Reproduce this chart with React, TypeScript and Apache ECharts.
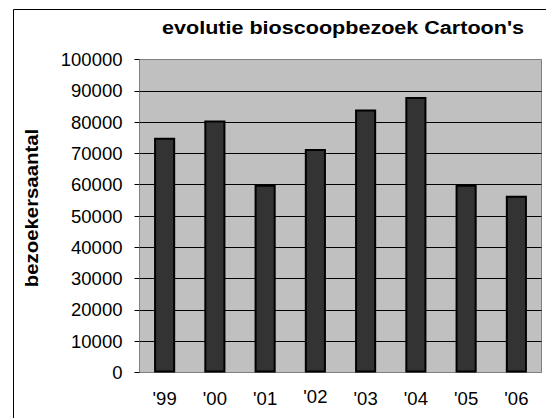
import React, { useEffect, useRef } from "react";
import * as echarts from "echarts";

const categories = ["'99", "'00", "'01", "'02", "'03", "'04", "'05", "'06"];
const visitors = [75000, 80500, 60000, 71400, 84000, 88000, 60000, 56500];
const titleText = "evolutie bioscoopbezoek Cartoon's";
const yAxisName = "bezoekersaantal";

export default function App() {
  const ref = useRef<HTMLDivElement>(null);
  useEffect(() => {
    if (!ref.current) return;
    const chart = echarts.init(ref.current, undefined, { renderer: "svg" });
    chart.setOption({
      animation: false,
      backgroundColor: "#ffffff",
      textStyle: { fontFamily: "Liberation Sans, Arial, sans-serif" },
      graphic: [
        {
          type: "rect",
          shape: { x: 13.5, y: 9.5, width: 600, height: 500 },
          style: { fill: "none", stroke: "#000", lineWidth: 1 },
          z: -1,
        },
        {
          type: "text",
          x: 162,
          y: 18,
          scaleX: 1.135,
          style: {
            text: titleText,
            font: "bold 19px 'Liberation Sans', Arial, sans-serif",
            fill: "#000",
            textVerticalAlign: "top",
          },
        },
        {
          type: "text",
          x: 31,
          y: 208,
          rotation: Math.PI / 2,
          scaleX: 1.1,
          style: {
            text: yAxisName,
            font: "bold 18.5px 'Liberation Sans', Arial, sans-serif",
            fill: "#000",
            textAlign: "center",
            textVerticalAlign: "middle",
          },
        },
      ],
      grid: {
        left: 139.5,
        top: 59.5,
        right: 4.5,
        bottom: 45.5,
        show: true,
        backgroundColor: "#C0C0C0",
        borderColor: "#808080",
        borderWidth: 1,
      },
      xAxis: {
        type: "category",
        data: categories,
        axisLine: { lineStyle: { color: "#808080", width: 1 } },
        axisTick: { show: false },
        axisLabel: {
          interval: 0,
          color: "#000",
          fontSize: 18.5,
          margin: 14,
          formatter: (v: string) => (v === "'02" ? "{up|" + v + "}" : "{n|" + v + "}"),
          rich: {
            n: { fontSize: 18.5, color: "#000", lineHeight: 24 },
            up: { fontSize: 18.5, color: "#000", lineHeight: 19 },
          },
        },
      },
      yAxis: {
        type: "value",
        min: 0,
        max: 100000,
        interval: 10000,
        axisLine: { show: true, lineStyle: { color: "#808080", width: 1 } },
        axisTick: { show: true, inside: false, length: 5, lineStyle: { color: "#000" } },
        axisLabel: { color: "#000", fontSize: 18.5, margin: 17, formatter: (v: number) => String(v) },
        splitLine: { show: true, showMaxLine: false, showMinLine: false, lineStyle: { color: "#000", width: 1 } },
      },
      series: [
        {
          type: "bar",
          data: visitors,
          barWidth: "42%",
          itemStyle: { color: "#333333", borderColor: "#000", borderWidth: 2 },
        },
      ],
    });
    return () => chart.dispose();
  }, []);
  return (
    <div
      ref={ref}
      style={{ position: "fixed", left: 0, top: 0, width: 546, height: 418 }}
    />
  );
}
